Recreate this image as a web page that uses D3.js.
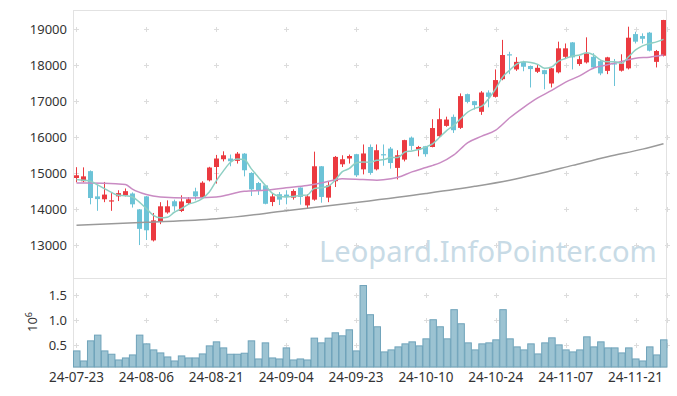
<!DOCTYPE html>
<html><head><meta charset="utf-8">
<script src="https://cdn.jsdelivr.net/npm/d3@7"></script>
<style>
body{margin:0;background:#fff;}
svg{display:block;}
text{font-family:"Noto Sans",sans-serif;}
</style>
</head><body>
<svg id="c" width="677" height="396"></svg>
<script>
const dates = ["24-07-23","24-07-24","24-07-25","24-07-26","24-07-29","24-07-30","24-07-31",
"24-08-01","24-08-02","24-08-05","24-08-06","24-08-07","24-08-08","24-08-09","24-08-12","24-08-13","24-08-14","24-08-16","24-08-19","24-08-20","24-08-21","24-08-22","24-08-23","24-08-26","24-08-27","24-08-28","24-08-29","24-08-30",
"24-09-02","24-09-03","24-09-04","24-09-05","24-09-06","24-09-09","24-09-10","24-09-11","24-09-12","24-09-13","24-09-19","24-09-20","24-09-23","24-09-24","24-09-25","24-09-26","24-09-27","24-09-30",
"24-10-02","24-10-04","24-10-07","24-10-08","24-10-10","24-10-11","24-10-14","24-10-15","24-10-16","24-10-17","24-10-18","24-10-21","24-10-22","24-10-23","24-10-24","24-10-25","24-10-28","24-10-29","24-10-30","24-10-31",
"24-11-01","24-11-04","24-11-05","24-11-06","24-11-07","24-11-08","24-11-11","24-11-12","24-11-13","24-11-14","24-11-15","24-11-18","24-11-19","24-11-20","24-11-21","24-11-22","24-11-25","24-11-26","24-11-27"];

const open  = [14870,14780,15060,14360,14280,14225,14360,14390,14440,14000,14360,13140,13665,13915,14225,13955,14175,14500,14345,14805,15175,15390,15410,15345,15545,15010,14730,14665,14205,14420,14410,14325,14605,14110,14270,15195,14325,14780,15250,15410,15530,15110,15730,15110,15530,15685,15150,15380,15990,15655,15750,15730,16030,16315,16565,16260,17195,17000,16705,17240,17120,17610,18300,17880,18085,17975,17815,17860,17490,17800,18230,18630,18030,18075,18230,18110,17840,18050,17845,17910,18860,18805,18900,18090,18260];
const high  = [15170,15165,15080,14670,14760,14450,14530,14580,14470,14010,14370,13900,14200,14250,14270,14390,14340,14600,14780,15180,15510,15610,15520,15590,15560,15030,14760,14680,14440,14480,14530,14555,14610,14420,15600,15200,14760,15480,15500,15520,15540,15800,15800,15800,15800,15730,15640,15930,16020,15760,15760,16500,16800,16570,16630,17215,17210,17010,17280,17300,17880,18700,18370,18220,18120,17990,18000,17870,17925,18650,18600,18640,18250,18770,18330,18150,18230,18170,18300,19065,18925,18880,18920,18420,19255];
const low   = [14750,14750,14140,13960,14200,13960,14230,14360,14050,13010,13150,13110,13590,13880,13960,13925,14140,14250,14325,14775,14715,15330,15195,15270,14915,14370,14400,14140,14090,14120,14140,14270,14130,14030,14240,14185,14200,14620,15175,15270,14900,14970,14960,15080,15210,15130,14830,15330,15640,15470,15460,15720,16010,16290,16120,16230,16940,16770,16620,16830,17100,17580,17750,17840,17830,17380,17780,17330,17380,17770,18185,17880,17980,18045,17890,17720,17750,17420,17820,17880,18600,18600,18380,17935,18240];
const close = [14945,14915,14315,14285,14410,14250,14450,14505,14140,13460,13420,13695,14085,14085,14085,14220,14280,14360,14740,15160,15410,15500,15335,15545,15085,14555,14530,14155,14360,14270,14340,14510,14345,14360,15195,14345,14665,15455,15390,15480,14945,15550,15010,15640,15500,15285,15500,15920,15760,15730,15530,16255,16500,16490,16195,17140,16980,16890,17240,17120,17585,18280,18270,18090,17955,17890,17925,17750,17910,18465,18465,18215,18165,18325,17935,17770,18215,18020,18045,18760,18650,18730,18400,18390,19250];

// volume in millions (axis label 10^6)
const volume = [0.386,0.186,0.586,0.70,0.386,0.32,0.206,0.246,0.306,0.70,
0.526,0.406,0.346,0.266,0.186,0.286,0.246,0.246,0.326,0.486,
0.566,0.446,0.32,0.32,0.34,0.586,0.226,0.546,0.246,0.226,
0.446,0.206,0.226,0.206,0.64,0.546,0.64,0.746,0.686,0.806,
0.386,1.686,1.106,0.866,0.366,0.406,0.466,0.526,0.566,0.486,
0.626,1.006,0.866,0.626,1.206,0.926,0.546,0.406,0.526,0.546,
0.606,1.206,0.626,0.466,0.406,0.526,0.326,0.546,0.646,0.506,
0.406,0.366,0.406,0.666,0.466,0.566,0.446,0.446,0.346,0.446,
0.226,0.186,0.466,0.306,0.606];

// moving averages
const maShort = [14830,14810,14780,14680,14575,14470,14390,14380,14345,14200,
14020,13835,13765,13780,13920,14020,14140,14200,14300,14480,
14790,15060,15300,15400,15380,15130,14900,14670,14450,14365,
14345,14360,14385,14395,14575,14600,14640,14805,15040,15130,
15285,15315,15305,15360,15380,15435,15440,15590,15620,15660,
15730,15825,16005,16190,16330,16520,16700,16800,16860,17075,
17350,17675,17860,18030,18090,18075,18020,17910,17950,18110,
18185,18250,18280,18340,18280,18140,18090,18090,18050,18230,
18420,18535,18600,18645,18715];
const maMidIdx = [0,4,7,8,10,12,16,20,22,24,27,30,33,35,37,38,41,43,45,46,48,50,51,52,54,56,58,60,62,64,66,68,70,72,74,76,78,80,82,84];
const maMid    = [14730,14725,14690,14560,14410,14345,14315,14345,14420,14500,14530,14600,14665,14730,14820,14850,14825,14810,14850,14890,15040,15160,15220,15290,15510,15850,16030,16200,16540,16830,17090,17300,17530,17700,17920,18010,18100,18190,18220,18280];
const maLongIdx = [0,10,20,30,40,50,57,62,66,71,76,81,84];
const maLong    = [13560,13640,13740,13960,14190,14440,14640,14810,14980,15220,15460,15670,15820];

const priceTicks = [13000,14000,15000,16000,17000,18000,19000];
const volTicks = [0.5,1.0,1.5];
const dateTickIdx = [0,10,20,30,40,50,60,70,80];

const svg = d3.select("#c");
const L = 73, R = 667, T = 10, MID = 277.5, B = 367;

const x = d3.scaleBand().domain(dates).range([L, R]).paddingInner(0).paddingOuter(0);
const bw = x.bandwidth();
const xc = d => x(d) + bw / 2;
const yP = d3.scaleLinear().domain([12111, 19528]).range([MID, T]);
const yV = d3.scaleLinear().domain([0.066, 1.846]).range([B, MID]);

const gridCol = "#dcdcdc";
const plus = svg.append("g").attr("stroke", gridCol).attr("stroke-width", 1);
function addPlus(px, py) {
  px = Math.round(px) + 0.5; py = Math.round(py) + 0.5;
  plus.append("line").attr("x1", px - 2.5).attr("x2", px + 2.5).attr("y1", py).attr("y2", py);
  plus.append("line").attr("x1", px).attr("x2", px).attr("y1", py - 2.5).attr("y2", py + 2.5);
}
const gx = dateTickIdx.map(i => xc(dates[i])).concat([R - 0.5]);
gx.forEach(px => {
  priceTicks.forEach(v => addPlus(px, yP(v)));
  volTicks.forEach(v => addPlus(px, yV(v)));
});

const frame = svg.append("g").attr("stroke", "#e2e2e2").attr("fill", "none").attr("stroke-width", 1);
frame.append("rect").attr("x", L + 0.5).attr("y", T + 0.5).attr("width", R - L - 1).attr("height", B - T);
frame.append("line").attr("x1", L).attr("x2", R).attr("y1", Math.round(MID) + 0.5).attr("y2", Math.round(MID) + 0.5);

// watermark, sized so that its natural width is about 338px
const wm = svg.append("text").attr("x", 319).attr("y", 262)
  .attr("font-size", 34).attr("fill", "#c8dbe6")
  .text("Leopard.InfoPointer.com");
const natural = wm.node().getComputedTextLength();
wm.attr("font-size", 34 * 338 / natural);

svg.append("g").selectAll("rect").data(dates).join("rect")
  .attr("x", d => x(d) + 0.5)
  .attr("width", bw - 0.5)
  .attr("y", (d, i) => yV(volume[i]))
  .attr("height", (d, i) => B - yV(volume[i]))
  .attr("fill", "#9cc3d2")
  .attr("stroke", "#6fa3ba").attr("stroke-width", 1);

const up = "#eb3a40", down = "#6cc3d7";
const cg = svg.append("g");
dates.forEach((d, i) => {
  const isUp = close[i] >= open[i];
  const col = isUp ? up : down;
  const bx = Math.round(xc(d) - 2.5);
  cg.append("line").attr("x1", bx + 2.5).attr("x2", bx + 2.5)
    .attr("y1", yP(high[i])).attr("y2", yP(low[i]))
    .attr("stroke", col).attr("stroke-width", 1);
  const y0 = yP(Math.max(open[i], close[i])), y1 = yP(Math.min(open[i], close[i]));
  cg.append("rect").attr("x", bx).attr("width", 5)
    .attr("y", y0).attr("height", Math.max(1.2, y1 - y0))
    .attr("fill", col);
});

const line = d3.line().x(p => xc(dates[p[0]])).y(p => yP(p[1])).curve(d3.curveMonotoneX);
svg.append("path").datum(maLongIdx.map((k, j) => [k, maLong[j]]))
  .attr("d", line).attr("fill", "none").attr("stroke", "#9a9a9a").attr("stroke-width", 1.5);
svg.append("path").datum(maMidIdx.map((k, j) => [k, maMid[j]]))
  .attr("d", line).attr("fill", "none").attr("stroke", "#c98bc3").attr("stroke-width", 1.5);
svg.append("path").datum(maShort.map((v, i) => [i, v]))
  .attr("d", line).attr("fill", "none").attr("stroke", "#8ecfc3").attr("stroke-width", 1.5);

const tickText = g => g.selectAll("text").attr("fill", "#333").attr("font-size", 13).attr("font-family", '"Noto Sans",sans-serif');
const ay = svg.append("g").attr("transform", `translate(${L},0)`)
  .call(d3.axisLeft(yP).tickValues(priceTicks).tickFormat(d3.format("d")).tickSize(0).tickPadding(6));
ay.select(".domain").remove(); tickText(ay);
const av = svg.append("g").attr("transform", `translate(${L},0)`)
  .call(d3.axisLeft(yV).tickValues(volTicks).tickFormat(d3.format(".1f")).tickSize(0).tickPadding(6));
av.select(".domain").remove(); tickText(av);
const ax = svg.append("g").attr("transform", `translate(0,${B})`)
  .call(d3.axisBottom(x).tickValues(dateTickIdx.map(i => dates[i])).tickSize(0).tickPadding(5));
ax.select(".domain").remove(); tickText(ax);
ax.selectAll("text").attr("font-size", 13.5);

const lab = svg.append("text").attr("transform", "translate(37,322) rotate(-90)")
  .attr("text-anchor", "middle").attr("fill", "#333").attr("font-size", 13);
lab.append("tspan").text("10");
lab.append("tspan").attr("dy", -5).attr("font-size", 9).text("6");
</script>
</body></html>
